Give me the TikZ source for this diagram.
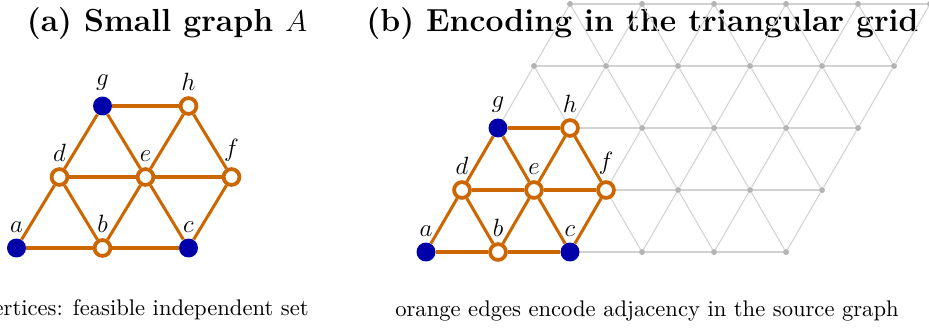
\documentclass[tikz,border=0pt]{standalone}
\usetikzlibrary{calc}
\definecolor{oedge}{HTML}{CC6600}
\definecolor{bfill}{HTML}{0000AA}
\definecolor{gline}{HTML}{D2D2D2}
\definecolor{gdot}{HTML}{B4B4B4}
\begin{document}
\begin{tikzpicture}[x=0.48pt,y=-0.48pt,
  sel/.style={circle,fill=bfill,draw=none,inner sep=0pt,minimum size=9.1pt},
  opn/.style={circle,fill=white,draw=oedge,line width=1.8pt,inner sep=0pt,minimum size=7.6pt},
  edg/.style={draw=oedge,line width=1.45pt},
  grd/.style={draw=gline,line width=0.5pt},
  gdt/.style={circle,fill=gdot,inner sep=0pt,minimum size=2.9pt},
  labA/.style={font=\fontsize{11.8}{13}\selectfont,inner sep=2.6pt},
  labB/.style={font=\fontsize{13}{14}\selectfont,inner sep=2.6pt},
  ttl/.style={font=\fontsize{15.3}{18}\selectfont\bfseries,inner sep=0pt},
  captxt/.style={font=\fontsize{10.85}{13}\selectfont,inner sep=0pt}]
\useasboundingbox (0,0) rectangle (929,329);

% ---------- titles ----------
\node[ttl,anchor=base] (ta) at (167,31) {(a) Small graph $A$};
\node[ttl,anchor=base] (tb) at (642.5,31.5) {(b) Encoding in the triangular grid};

% ---------- panel (b): grid ----------
\foreach \i in {0,...,5}{
  \foreach \j in {0,...,4}{
    \node[gdt] (q\i\j) at ({426+72*\i+36*\j},{252-62*\j}) {};
  }
}
\foreach \j in {0,...,4}{
  \foreach \i in {0,...,4}{
    \pgfmathtruncatemacro{\ii}{\i+1}
    \draw[grd] (q\i\j) -- (q\ii\j);
  }
}
\foreach \i in {0,...,5}{
  \foreach \j in {0,...,3}{
    \pgfmathtruncatemacro{\jj}{\j+1}
    \draw[grd] (q\i\j) -- (q\i\jj);
  }
}
\foreach \i in {1,...,5}{
  \foreach \j in {0,...,3}{
    \pgfmathtruncatemacro{\ii}{\i-1}
    \pgfmathtruncatemacro{\jj}{\j+1}
    \draw[grd] (q\i\j) -- (q\ii\jj);
  }
}

% ---------- panel (a): graph ----------
\node[sel,label={[labA]above:$a$}] (aa) at (16.5,248) {};
\node[opn,label={[labA]above:$b$}] (ab) at (102.5,248) {};
\node[sel,label={[labA]above:$c$}] (ac) at (188.5,248) {};
\node[opn,label={[labA]above:$d$}] (ad) at (59.5,177) {};
\node[opn,label={[labA]above:$e$}] (ae) at (145.5,177) {};
\node[opn,label={[labA]above:$f$}] (af) at (231.5,177) {};
\node[sel,label={[labA]above:$g$}] (ag) at (102.5,106) {};
\node[opn,label={[labA]above:$h$}] (ah) at (188.5,106) {};
\foreach \u/\v in {aa/ab,ab/ac,ad/ae,ae/af,ag/ah,aa/ad,ad/ab,ab/ae,ae/ac,ac/af,ad/ag,ag/ae,ae/ah,ah/af}
  \draw[edg] (\u) -- (\v);

% ---------- panel (b): graph ----------
\node[sel,label={[labB]above:$a$}] (ba) at (426,252) {};
\node[opn,label={[labB]above:$b$}] (bb) at (498,252) {};
\node[sel,label={[labB]above:$c$}] (bc) at (570,252) {};
\node[opn,label={[labB]above:$d$}] (bd) at (462,190) {};
\node[opn,label={[labB]above:$e$}] (be) at (534,190) {};
\node[opn,label={[labB]above:$f$}] (bf) at (606,190) {};
\node[sel,label={[labB]above:$g$}] (bg) at (498,128) {};
\node[opn,label={[labB]above:$h$}] (bh) at (570,128) {};
\foreach \u/\v in {ba/bb,bb/bc,bd/be,be/bf,bg/bh,ba/bd,bd/bb,bb/be,be/bc,bc/bf,bd/bg,bg/be,be/bh,bh/bf}
  \draw[edg] (\u) -- (\v);

% ---------- captions ----------
\node[captxt,anchor=base east] (ca) at (309,315) {vertices: feasible independent set};
\node[captxt,anchor=base] (cb) at (647,316) {orange edges encode adjacency in the source graph};
\end{tikzpicture}
\end{document}
